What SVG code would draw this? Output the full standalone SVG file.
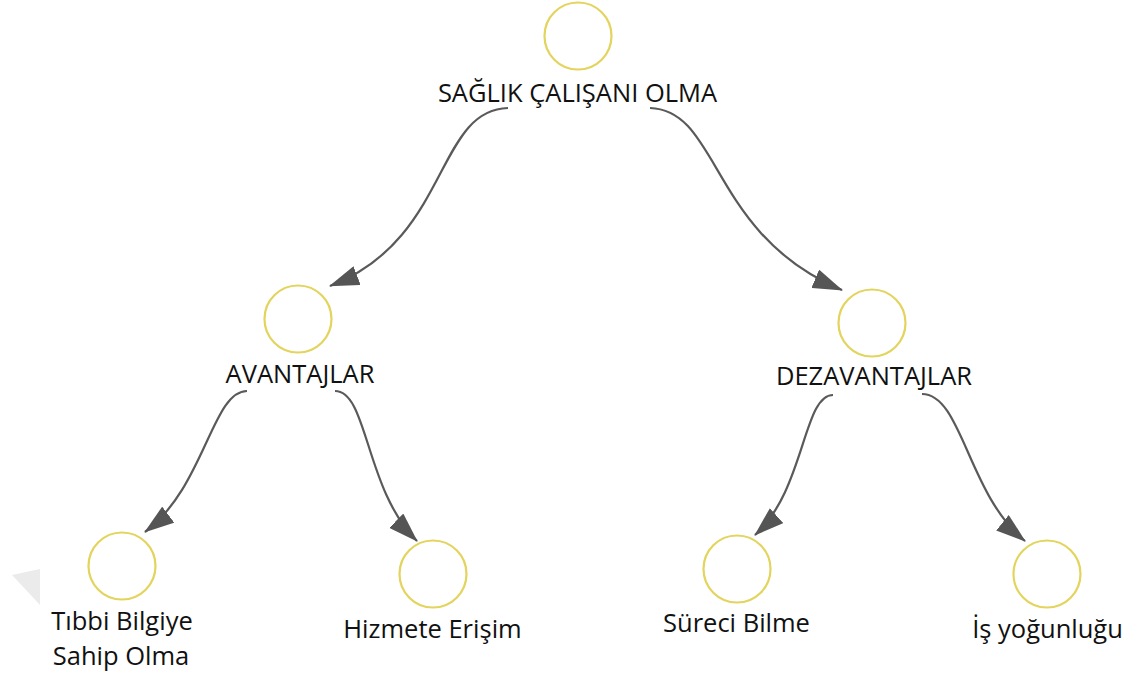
<svg xmlns="http://www.w3.org/2000/svg" width="1134" height="677" viewBox="0 0 1134 677">
<style>
.node circle{fill:#ffffff;stroke:#e3d45e;stroke-width:2.2}
.lbl{font-family:"Open Sans","Noto Sans","DejaVu Sans",sans-serif;font-size:25.5px;fill:#111111;text-anchor:middle}
.edge{fill:none;stroke:#5a5a5a;stroke-width:2.2;marker-end:url(#arr)}
</style>
<defs>
<marker id="arr" markerUnits="userSpaceOnUse" viewBox="0 0 30 20" markerWidth="30" markerHeight="20" refX="29" refY="10" orient="auto">
<path d="M0,0 L30,10 L0,20 z" fill="#555555"/>
</marker>
</defs>
<rect width="1134" height="677" fill="#ffffff"/>
<polygon points="12,575 40,569 40,605" fill="#ebebeb"/>
<g id="connectors">
<path class="edge" d="M508 108 C435 110 450 240 330 286"/>
<path class="edge" d="M650 108 C720 110 710 235 842 290"/>
<path class="edge" d="M247 391 C212 391 205 487 145 532"/>
<path class="edge" d="M335 391 C368 391 365 490 417 541"/>
<path class="edge" d="M833 395 C803 395 805 490 755 535"/>
<path class="edge" d="M922 394 C962 394 968 495 1025 541"/>
</g>
<g id="n-root" class="node"><circle cx="578" cy="36" r="33.5"/><text class="lbl" x="577.5" y="102">SAĞLIK ÇALIŞANI OLMA</text></g>
<g id="n-avantajlar" class="node"><circle cx="298" cy="319" r="33.5"/><text class="lbl" x="300" y="383">AVANTAJLAR</text></g>
<g id="n-dezavantajlar" class="node"><circle cx="872" cy="323" r="33.5"/><text class="lbl" x="874" y="385">DEZAVANTAJLAR</text></g>
<g id="n-tibbi" class="node"><circle cx="122" cy="566" r="33.5"/><text class="lbl" x="122" y="630">Tıbbi Bilgiye</text><text class="lbl" x="121" y="665">Sahip Olma</text></g>
<g id="n-hizmete" class="node"><circle cx="433" cy="574" r="33.5"/><text class="lbl" x="432.5" y="638">Hizmete Erişim</text></g>
<g id="n-sureci" class="node"><circle cx="737" cy="569" r="33.5"/><text class="lbl" x="736.5" y="632">Süreci Bilme</text></g>
<g id="n-is" class="node"><circle cx="1047" cy="574" r="33.5"/><text class="lbl" x="1047.5" y="638">İş yoğunluğu</text></g>
</svg>
